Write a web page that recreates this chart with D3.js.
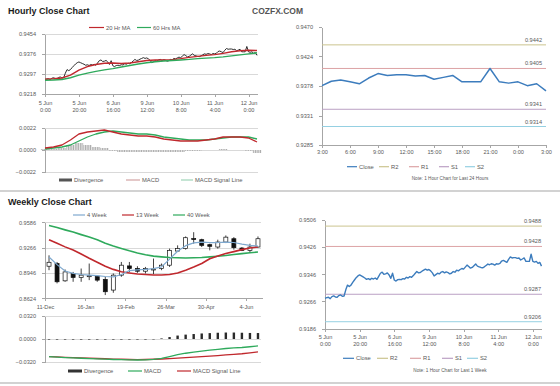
<!DOCTYPE html>
<html lang="en">
<head>
<meta charset="UTF-8">
<title>Hourly and Weekly Close Charts</title>
<script src="https://cdnjs.cloudflare.com/ajax/libs/d3/7.8.5/d3.min.js"></script>
<style>
    body { margin: 0; background: #fff; }
    svg { font-family: "Liberation Sans", Arial, sans-serif; }
    .title { font-size: 9px; font-weight: bold; fill: #1a1a1a; }
    .brand { font-size: 8.5px; font-weight: bold; fill: #555; }
    .axis text { font-size: 5.6px; fill: #595959; }
    .axis path, .axis line { stroke: #a6a6a6; shape-rendering: crispEdges; }
    .grid { stroke: #d9d9d9; stroke-width: 1; shape-rendering: crispEdges; }
    .legend text { font-size: 5.8px; fill: #595959; }
    .note { font-size: 4.7px; fill: #595959; }
    .lvl { font-size: 5.6px; fill: #595959; }
</style>
</head>
<body>
<svg id="chart" width="560" height="386"></svg>
<script>
// hourly close, 5 Jun 0:00 onwards (one value per trading hour)
var hourClose = [0.9275, 0.9277, 0.9278, 0.9274, 0.9280, 0.9282, 0.9279, 0.9278, 0.9283, 0.9285,
    0.9281, 0.9282, 0.9300, 0.9314, 0.9310, 0.9314, 0.9322, 0.9329, 0.9336, 0.9341,
    0.9344, 0.9341, 0.9338, 0.9335, 0.9331, 0.9333, 0.9330, 0.9334, 0.9332, 0.9335,
    0.9331, 0.9340, 0.9349, 0.9352, 0.9346, 0.9347, 0.9350, 0.9344, 0.9334, 0.9349,
    0.9329, 0.9326, 0.9330, 0.9331, 0.9330, 0.9333, 0.9332, 0.9337, 0.9335, 0.9339,
    0.9337, 0.9342, 0.9348, 0.9354, 0.9350, 0.9351, 0.9355, 0.9358, 0.9361, 0.9358,
    0.9360, 0.9356, 0.9350, 0.9341, 0.9345, 0.9349, 0.9347, 0.9352, 0.9354, 0.9350,
    0.9353, 0.9351, 0.9347, 0.9349, 0.9354, 0.9352, 0.9358, 0.9356, 0.9360, 0.9363,
    0.9361, 0.9367, 0.9373, 0.9369, 0.9364, 0.9366, 0.9371, 0.9376, 0.9370, 0.9368,
    0.9366, 0.9365, 0.9368, 0.9372, 0.9376, 0.9374, 0.9377, 0.9376, 0.9373, 0.9377,
    0.9376, 0.9378, 0.9385, 0.9387, 0.9384, 0.9381, 0.9390, 0.9397, 0.9394, 0.9395,
    0.9395, 0.9393, 0.9394, 0.9388, 0.9391, 0.9394, 0.9384, 0.9384, 0.9384, 0.9405,
    0.9384, 0.9382, 0.9384, 0.9378, 0.9381, 0.9370];

// moving averages and MACD, read every 5 hours
var sampleHours = [0, 5, 10, 15, 20, 25, 30, 35, 40, 45, 50, 55, 60, 65, 70, 75, 80, 85, 90, 95, 100, 105, 110, 115, 120, 125];
var ma20 = [0.9276, 0.9278, 0.9281, 0.9292, 0.9312, 0.9326, 0.9334, 0.9339, 0.9340, 0.9338, 0.9340, 0.9345, 0.9350,
    0.9352, 0.9352, 0.9353, 0.9357, 0.9362, 0.9366, 0.9370, 0.9373, 0.9378, 0.9384, 0.9388, 0.9390, 0.9389];
var ma60 = [0.9272, 0.9273, 0.9275, 0.9282, 0.9292, 0.9300, 0.9307, 0.9313, 0.9318, 0.9324, 0.9330, 0.9336, 0.9341,
    0.9345, 0.9348, 0.9350, 0.9352, 0.9354, 0.9357, 0.9359, 0.9361, 0.9364, 0.9368, 0.9372, 0.9376, 0.9380];
var hourMacd = [0.0002, 0.0003, 0.0005, 0.0010, 0.0016, 0.0018, 0.0019, 0.0020, 0.0018, 0.0016, 0.0015, 0.0014, 0.0014,
    0.0013, 0.0011, 0.0010, 0.0009, 0.0009, 0.0009, 0.0010, 0.0011, 0.0013, 0.0013, 0.0013, 0.0012, 0.0008];
var hourSignal = [0.0001, 0.0002, 0.0003, 0.0005, 0.0009, 0.0013, 0.0016, 0.0018, 0.0019, 0.0018, 0.0017, 0.0016, 0.0016,
    0.0015, 0.0013, 0.0012, 0.0011, 0.0010, 0.0010, 0.0010, 0.0011, 0.0012, 0.0013, 0.0013, 0.0013, 0.0011];
var hourDiv = [0.0001, 0.0001, 0.0002, 0.0005, 0.0007, 0.0005, 0.0003, 0.0002, -0.0001, -0.0002, -0.0002, -0.0002, -0.0002,
    -0.0002, -0.0002, -0.0002, -0.0002, -0.0001, -0.0001, 0.0000, 0.0000, 0.0001, 0.0000, 0.0000, -0.0001, -0.0003];

var hourTickHours = [0, 20, 40, 60, 80, 100, 120];
var hourTickLabels = [["5 Jun", "0:00"], ["5 Jun", "20:00"], ["6 Jun", "16:00"], ["9 Jun", "12:00"],
    ["10 Jun", "8:00"], ["11 Jun", "4:00"], ["12 Jun", "0:00"]];

// last 24 hours
var dayClose = hourClose.slice(101);
var dayTickIdx = [0, 3, 6, 9, 12, 15, 18, 21, 24];
var dayTickLabels = ["3:00", "6:00", "9:00", "12:00", "15:00", "18:00", "21:00", "0:00", "3:00"];

var levelNames = ["R2", "R1", "S1", "S2"];
var dayLevels = [0.9442, 0.9405, 0.9341, 0.9314];
var weekLevels = [0.9488, 0.9428, 0.9287, 0.9206];

// weekly candles
var weekOpen = [0.9030, 0.9064, 0.8845, 0.8938, 0.8888, 0.8905, 0.8904, 0.8863, 0.8728, 0.8917, 0.9034, 0.9001, 0.8967, 0.8990,
    0.9001, 0.9043, 0.9222, 0.9253, 0.9380, 0.9366, 0.9303, 0.9273, 0.9336, 0.9378, 0.9260, 0.9231, 0.9273];
var weekHigh = [0.9168, 0.9084, 0.8989, 0.8958, 0.9001, 0.9064, 0.8917, 0.8896, 0.8938, 0.9084, 0.9084, 0.9030, 0.9021, 0.9127,
    0.9064, 0.9253, 0.9294, 0.9407, 0.9461, 0.9378, 0.9315, 0.9366, 0.9420, 0.9398, 0.9273, 0.9315, 0.9407];
var weekLow = [0.8980, 0.8813, 0.8833, 0.8833, 0.8833, 0.8854, 0.8833, 0.8665, 0.8694, 0.8896, 0.8958, 0.8946, 0.8938, 0.8929,
    0.8980, 0.9021, 0.9210, 0.9240, 0.9315, 0.9273, 0.9231, 0.9253, 0.9323, 0.9240, 0.9222, 0.9210, 0.9265];
var weekClose = [0.9080, 0.8833, 0.8958, 0.8888, 0.8917, 0.8910, 0.8854, 0.8707, 0.8917, 0.9043, 0.9001, 0.8967, 0.9001, 0.8995,
    0.9043, 0.9231, 0.9253, 0.9391, 0.9370, 0.9294, 0.9282, 0.9336, 0.9398, 0.9265, 0.9231, 0.9273, 0.9378];

var ma4w = [0.9147, 0.9050, 0.8970, 0.8940, 0.8925, 0.8917, 0.8910, 0.8900, 0.8896, 0.8925, 0.8975, 0.8985, 0.8990, 0.9000,
    0.9021, 0.9120, 0.9220, 0.9290, 0.9325, 0.9336, 0.9330, 0.9330, 0.9335, 0.9330, 0.9310, 0.9295, 0.9285];
var ma13w = [0.9366, 0.9320, 0.9275, 0.9235, 0.9185, 0.9130, 0.9080, 0.9030, 0.8990, 0.8960, 0.8945, 0.8932, 0.8925, 0.8918,
    0.8918, 0.8925, 0.8945, 0.8980, 0.9020, 0.9065, 0.9125, 0.9160, 0.9190, 0.9215, 0.9240, 0.9260, 0.9275];
var ma40w = [0.9545, 0.9520, 0.9490, 0.9462, 0.9430, 0.9400, 0.9365, 0.9320, 0.9285, 0.9255, 0.9225, 0.9198, 0.9175, 0.9158,
    0.9148, 0.9140, 0.9137, 0.9135, 0.9137, 0.9140, 0.9148, 0.9157, 0.9166, 0.9178, 0.9190, 0.9200, 0.9210];

var weekMacd = [-0.0246, -0.0252, -0.0258, -0.0263, -0.0268, -0.0272, -0.0277, -0.0281, -0.0285, -0.0288, -0.0291, -0.0292,
    -0.0290, -0.0284, -0.0270, -0.0245, -0.0218, -0.0198, -0.0183, -0.0168, -0.0155, -0.0143, -0.0132, -0.0124, -0.0118, -0.0108, -0.0097];
var weekSignal = [-0.0246, -0.0250, -0.0255, -0.0259, -0.0263, -0.0267, -0.0271, -0.0275, -0.0279, -0.0282, -0.0285, -0.0286,
    -0.0285, -0.0282, -0.0278, -0.0272, -0.0266, -0.0259, -0.0252, -0.0245, -0.0237, -0.0230, -0.0222, -0.0214, -0.0205, -0.0192, -0.0180];
var weekDiv = [-0.0008, -0.0008, -0.0008, -0.0008, -0.0008, -0.0008, -0.0008, -0.0008, -0.0008, -0.0008, -0.0008, -0.0008,
    -0.0008, -0.0006, 0.0008, 0.0027, 0.0048, 0.0061, 0.0069, 0.0077, 0.0082, 0.0087, 0.0090, 0.0090, 0.0087, 0.0084, 0.0083];

var weekTickIdx = [0, 5, 10, 15, 20, 25];
var weekTickLabels = ["11-Dec", "16-Jan", "19-Feb", "26-Mar", "30-Apr", "4-Jun"];

var hourYTicks = [0.9218, 0.9297, 0.9376, 0.9454];
var hourMacdTicks = [-0.0022, 0.0000, 0.0022];
var dayYTicks = [0.9285, 0.9331, 0.9378, 0.9424, 0.9470];
var weekYTicks = [0.8624, 0.8946, 0.9266, 0.9586];
var weekMacdTicks = [-0.0320, 0.0000, 0.0320];
var week1YTicks = [0.9186, 0.9266, 0.9346, 0.9426, 0.9506];

var RED = "#c0282d", GREEN = "#2faa5c", BLUE = "#3c7cbd", LIGHTBLUE = "#7fa9cf";
var levelColors = ["#cbc48f", "#dca3a5", "#bba0c4", "#95d0e2"];

var svg = d3.select("#chart");
var fmt4 = d3.format(".4f");

// vertical hatch used by the hourly divergence bars
var pat = svg.append("defs").append("pattern").attr("id", "hatch")
    .attr("patternUnits", "userSpaceOnUse").attr("width", 1.7).attr("height", 4);
pat.append("rect").attr("width", 1.7).attr("height", 4).attr("fill", "#e6e6e6");
pat.append("rect").attr("width", 0.8).attr("height", 4).attr("fill", "#a9a9a9");

function grid(y, ticks, x0, x1) {
    svg.append("g").selectAll("line").data(ticks).join("line")
        .attr("class", "grid")
        .attr("x1", x0).attr("x2", x1)
        .attr("y1", function(d) { return Math.round(y(d)) + 0.5; })
        .attr("y2", function(d) { return Math.round(y(d)) + 0.5; });
}

function yAxis(y, ticks, x0, pad) {
    svg.append("g").attr("class", "axis")
        .attr("transform", "translate(" + x0 + ",0)")
        .call(d3.axisLeft(y).tickValues(ticks).tickFormat(fmt4).tickSize(3).tickSizeOuter(0).tickPadding(pad));
}

function xAxis(x, tickVals, labels, y0, pad) {
    var ax = svg.append("g").attr("class", "axis")
        .attr("transform", "translate(0," + y0 + ")")
        .call(d3.axisBottom(x).tickValues(tickVals).tickSize(3).tickSizeOuter(0).tickPadding(pad)
            .tickFormat(function(d, i) { return ""; }));
    ax.selectAll(".tick text").each(function(d, i) {
        var t = d3.select(this);
        var lab = labels[i];
        if (typeof lab === "string") lab = [lab];
        lab.forEach(function(s, j) {
            t.append("tspan").attr("x", 0).attr("dy", j === 0 ? "0.71em" : "1.25em").text(s);
        });
    });
    return ax;
}

function legend(items, y) {
    var g = svg.append("g").attr("class", "legend");
    items.forEach(function(it) {
        if (it.bar) {
            g.append("rect").attr("x", it.x).attr("y", y - 1.5).attr("width", it.w).attr("height", 3).attr("fill", it.color);
        } else {
            g.append("line").attr("x1", it.x).attr("x2", it.x + it.w).attr("y1", y).attr("y2", y)
                .attr("stroke", it.color).attr("stroke-width", 1.2);
        }
        g.append("text").attr("x", it.x + it.w + 2).attr("y", y).attr("dy", "0.35em").text(it.label);
    });
}

function path(data, x, y, color, w) {
    svg.append("path").datum(data)
        .attr("fill", "none").attr("stroke", color).attr("stroke-width", w)
        .attr("stroke-linejoin", "round")
        .attr("d", d3.line().x(function(d) { return x(d[0]); }).y(function(d) { return y(d[1]); }));
}

function pairs(xs, ys) {
    return ys.map(function(v, i) { return [xs[i], v]; });
}

// separators
[191, 383].forEach(function(yy) {
    svg.append("line").attr("x1", 0).attr("x2", 560).attr("y1", yy).attr("y2", yy)
        .attr("stroke", "#d2d2d2").attr("stroke-width", 2);
});

// ---------- Hourly close chart (top left) ----------
svg.append("text").attr("class", "title").attr("x", 8).attr("y", 14).text("Hourly Close Chart");
svg.append("text").attr("class", "brand").attr("x", 252).attr("y", 14).text("COZFX.COM");

var hx = d3.scaleLinear().domain([0, 125]).range([45, 257]);
var hy = d3.scaleLinear().domain([0.9218, 0.9454]).range([94, 34]);
grid(hy, hourYTicks.slice(1), 45, 258);
yAxis(hy, hourYTicks, 45, 6);
xAxis(hx, hourTickHours, hourTickLabels, 94, 4);

var hourIdx = hourClose.map(function(d, i) { return i; });
path(pairs(hourIdx, hourClose), hx, hy, "#2e2e2e", 1);
path(pairs(sampleHours, ma20), hx, hy, RED, 1.4);
path(pairs(sampleHours, ma60), hx, hy, GREEN, 1.4);
legend([{ x: 89, w: 15, color: RED, label: "20 Hr MA" }, { x: 137, w: 14, color: GREEN, label: "60 Hrs MA" }], 27.5);

// hourly MACD
var my = d3.scaleLinear().domain([-0.0022, 0.0022]).range([172, 128]);
grid(my, hourMacdTicks, 45, 258);
yAxis(my, hourMacdTicks, 45, 6);
svg.append("g").selectAll("rect").data(hourDiv).join("rect")
    .attr("x", function(d, i) { return hx(sampleHours[i]) - 4.2; })
    .attr("width", 8.5)
    .attr("y", function(d) { return Math.min(my(d), my(0)); })
    .attr("height", function(d) { return Math.abs(my(d) - my(0)); })
    .attr("fill", "url(#hatch)");
path(pairs(sampleHours, hourSignal), hx, my, GREEN, 1.3);
path(pairs(sampleHours, hourMacd), hx, my, RED, 1.3);
legend([{ x: 59, w: 13, color: "#555", label: "Divergence", bar: true },
    { x: 126, w: 14, color: "#d3a3a3", label: "MACD" },
    { x: 181, w: 12, color: "#9fd4b8", label: "MACD Signal Line" }], 180);

// ---------- Last 24 hours (top right) ----------
var dx = d3.scaleLinear().domain([0, 24]).range([322, 546]);
var dy = d3.scaleLinear().domain([0.9285, 0.9470]).range([145, 27]);
yAxis(dy, dayYTicks, 322, 6);
xAxis(dx, dayTickIdx, dayTickLabels, 145, 2.5);
dayLevels.forEach(function(v, i) {
    svg.append("line").attr("x1", 322).attr("x2", 546).attr("y1", dy(v)).attr("y2", dy(v))
        .attr("stroke", levelColors[i]).attr("stroke-width", 1);
    svg.append("text").attr("class", "lvl").attr("x", 542).attr("y", dy(v) - 3)
        .attr("text-anchor", "end").text(fmt4(v));
});
path(pairs(dayClose.map(function(d, i) { return i; }), dayClose), dx, dy, BLUE, 1.5);

var levelLegend = [{ x: 347, w: 10, color: BLUE, label: "Close" }];
levelNames.forEach(function(n, i) {
    levelLegend.push({ x: [379, 409, 439, 465][i], w: 10, color: levelColors[i], label: n });
});
legend(levelLegend, 166.7);
svg.append("text").attr("class", "note").attr("x", 450).attr("y", 178.3).attr("dy", "0.35em")
    .attr("text-anchor", "middle").text("Note: 1 Hour Chart for Last 24 Hours");

// ---------- Weekly close chart (bottom left) ----------
svg.append("text").attr("class", "title").attr("x", 8).attr("y", 205).text("Weekly Close Chart");

var wx = d3.scaleBand().domain(weekClose.map(function(d, i) { return i; })).range([45, 262]);
var wc = function(i) { return wx(i) + wx.bandwidth() / 2; };
var wy = d3.scaleLinear().domain([0.8624, 0.9586]).range([298.3, 222.3]);
grid(wy, weekYTicks.slice(1), 45, 261);
yAxis(wy, weekYTicks, 45, 6);
var wxAxis = d3.scaleLinear().domain([0, 27]).range([45, 262]);
xAxis(wxAxis, weekTickIdx, weekTickLabels, 298.3, 4);

var weekIdx = weekClose.map(function(d, i) { return i; });
var cx = d3.scaleLinear().domain([0, 26]).range([wc(0), wc(26)]);
var candles = svg.append("g");
weekClose.forEach(function(c, i) {
    var o = weekOpen[i];
    candles.append("line").attr("x1", wc(i)).attr("x2", wc(i))
        .attr("y1", wy(weekHigh[i])).attr("y2", wy(weekLow[i]))
        .attr("stroke", "#111").attr("stroke-width", 0.8);
    candles.append("rect").attr("x", wc(i) - 2).attr("width", 4)
        .attr("y", wy(Math.max(o, c))).attr("height", Math.max(1, Math.abs(wy(o) - wy(c))))
        .attr("fill", c >= o ? "#fff" : "#111").attr("stroke", "#111").attr("stroke-width", 0.7);
});
path(pairs(weekIdx, ma40w), cx, wy, GREEN, 1.6);
path(pairs(weekIdx, ma13w), cx, wy, RED, 1.6);
path(pairs(weekIdx, ma4w), cx, wy, LIGHTBLUE, 1.2);
legend([{ x: 73, w: 12, color: LIGHTBLUE, label: "4 Week" },
    { x: 122, w: 12, color: RED, label: "13 Week" },
    { x: 173, w: 12, color: GREEN, label: "40 Week" }], 215);

// weekly MACD
var wmy = d3.scaleLinear().domain([-0.032, 0.032]).range([362, 316]);
grid(wmy, weekMacdTicks, 45, 261);
yAxis(wmy, weekMacdTicks, 45, 6);
svg.append("g").selectAll("rect").data(weekDiv).join("rect")
    .attr("x", function(d, i) { return wc(i) - 1.2; })
    .attr("width", 2.4)
    .attr("y", function(d) { return Math.min(wmy(d), wmy(0)); })
    .attr("height", function(d) { return Math.abs(wmy(d) - wmy(0)); })
    .attr("fill", "#2a2a2a");
path(pairs(weekIdx, weekSignal), cx, wmy, RED, 1.3);
path(pairs(weekIdx, weekMacd), cx, wmy, GREEN, 1.3);
legend([{ x: 68, w: 14, color: "#333", label: "Divergence", bar: true },
    { x: 128, w: 14, color: GREEN, label: "MACD" },
    { x: 177, w: 14, color: RED, label: "MACD Signal Line" }], 371);

// ---------- Last 1 week (bottom right) ----------
var bx = d3.scaleLinear().domain([0, 125]).range([325, 541.5]);
var by = d3.scaleLinear().domain([0.9186, 0.9506]).range([328.5, 220]);
yAxis(by, week1YTicks, 325, 6);
xAxis(bx, hourTickHours, hourTickLabels, 328.5, 4);
weekLevels.forEach(function(v, i) {
    svg.append("line").attr("x1", 325).attr("x2", 542).attr("y1", by(v)).attr("y2", by(v))
        .attr("stroke", levelColors[i]).attr("stroke-width", 1);
    svg.append("text").attr("class", "lvl").attr("x", 541).attr("y", by(v) - 3)
        .attr("text-anchor", "end").text(fmt4(v));
});
path(pairs(hourIdx, hourClose), bx, by, BLUE, 1.4);

var levelLegend2 = [{ x: 343, w: 11, color: BLUE, label: "Close" }];
levelNames.forEach(function(n, i) {
    levelLegend2.push({ x: [377, 410, 442, 467][i], w: 11, color: levelColors[i], label: n });
});
legend(levelLegend2, 358.3);
svg.append("text").attr("class", "note").attr("x", 450).attr("y", 370).attr("dy", "0.35em")
    .attr("text-anchor", "middle").text("Note: 1 Hour Chart for Last 1 Week");
</script>
</body>
</html>
